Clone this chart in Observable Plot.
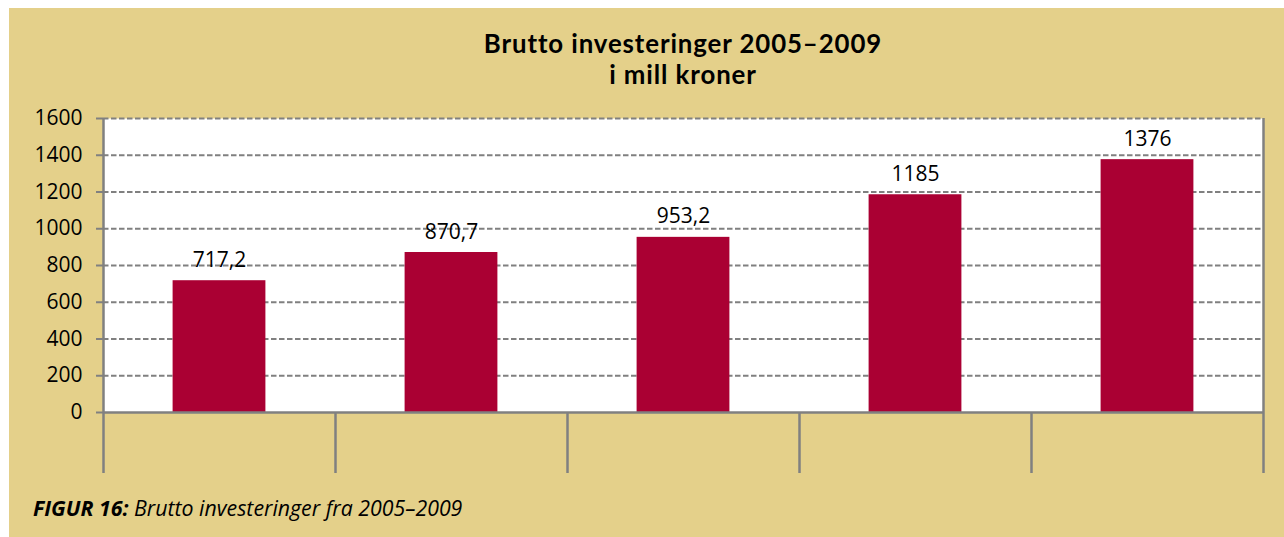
<!DOCTYPE html>
<html>
<head>
<meta charset="utf-8">
<script src="https://cdn.jsdelivr.net/npm/d3@7"></script>
<script src="https://cdn.jsdelivr.net/npm/@observablehq/plot@0.6"></script>
<style>
  html, body { margin: 0; padding: 0; background: #ffffff; width: 1284px; height: 537px; overflow: hidden; }
  #panel { position: absolute; left: 9px; top: 8px; width: 1275px; height: 529px; background: #E4D08A; font-family: "Open Sans", sans-serif; }
  #title { position: absolute; left: 94px; width: 1160px; top: 20px; text-align: center; font-family: Lato, "Open Sans", sans-serif; font-weight: bold; font-size: 25.8px; letter-spacing: 0.9px; color: #000; }
  #title div { height: 31px; line-height: 31px; }
  #chart { position: absolute; left: 0; top: 90px; }
  #caption { position: absolute; left: 24px; top: 485px; font-size: 21.3px; font-style: italic; color: #000; }
  #caption b { font-weight: bold; }
</style>
</head>
<body>
<div id="panel">
  <div id="title"><div>Brutto investeringer 2005–2009</div><div>i mill kroner</div></div>
  <div id="chart"></div>
  <div id="caption"><b>FIGUR 16:</b> Brutto investeringer fra 2005–2009</div>
</div>
<script>
const years = [2005, 2006, 2007, 2008, 2009];
const values = [717.2, 870.7, 953.2, 1185, 1376];
const yTicks = [0, 200, 400, 600, 800, 1000, 1200, 1400, 1600];

const data = years.map((y, i) => ({year: y, value: values[i]}));
const boundaries = years.map(y => y - 0.5).concat([years[years.length - 1] + 0.5]);
const fmt = v => String(v).replace(".", ",");
const gray = "#808080";

const chart = Plot.plot({
  width: 1275,
  height: 379,
  marginLeft: 94,
  marginRight: 21,
  marginTop: 20,
  marginBottom: 65,
  style: {background: "transparent", fontFamily: "'Open Sans', sans-serif", fontSize: "21px", color: "#000", overflow: "visible"},
  x: {type: "linear", domain: [years[0] - 0.5, years[years.length - 1] + 0.5]},
  y: {domain: [0, 1600]},
  marks: [
    Plot.frame({fill: "white", stroke: null}),
    Plot.gridY(yTicks.filter(d => d > 0), {stroke: gray, strokeOpacity: 1, strokeWidth: 2, strokeDasharray: "5.5,2.5"}),
    Plot.rectY(data, {x1: d => d.year - 0.2, x2: d => d.year + 0.2, y: "value", fill: "#AA0033"}),
    Plot.text(data, {x: "year", y: "value", text: d => fmt(d.value), dy: -14, lineAnchor: "bottom", fill: "#000", fontSize: 21}),
    Plot.axisY({ticks: yTicks, tickFormat: d => String(d), tickSize: 7, tickPadding: 14, stroke: gray, strokeWidth: 2, fontSize: 21, fill: "#000", label: null}),
    Plot.ruleX([boundaries[0]], {y1: 0, y2: 1600, stroke: gray, strokeWidth: 2.5}),
    Plot.ruleX([boundaries[boundaries.length - 1]], {y1: 0, y2: 1600, stroke: gray, strokeWidth: 2.5}),
    Plot.axisX({ticks: boundaries, tickSize: 61, tickFormat: () => "", stroke: gray, strokeWidth: 2.5, label: null}),
    Plot.ruleY([0], {stroke: gray, strokeWidth: 2.5})
  ]
});
document.getElementById("chart").appendChild(chart);
</script>
</body>
</html>
